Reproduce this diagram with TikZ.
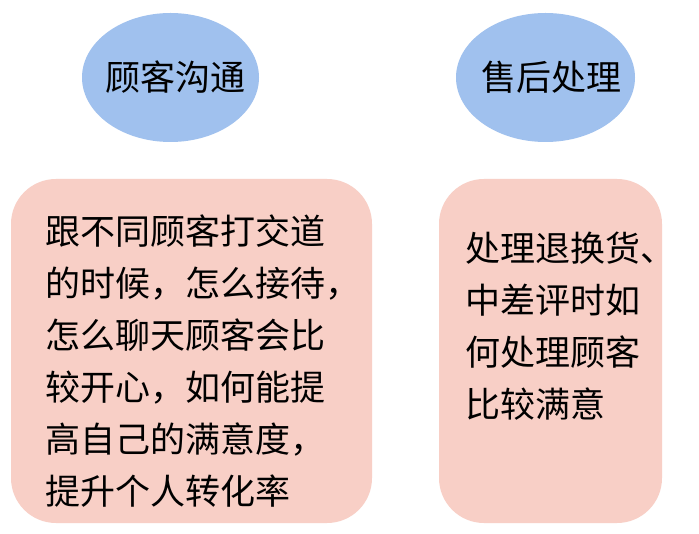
\documentclass[tikz,border=0pt]{standalone}
\usepackage{fontspec}
\setmainfont{Noto Sans CJK SC}
\usetikzlibrary{shapes.geometric}
\definecolor{ellblue}{RGB}{160,193,238}
\definecolor{boxpink}{RGB}{248,207,198}
\tikzset{
  topic/.style={ellipse, fill=ellblue, draw=none, inner sep=0pt, font=\fontsize{35}{42}\selectfont},
  card/.style={rectangle, rounded corners=45pt, fill=boxpink, draw=none},
  cardtext/.style={anchor=north west, inner sep=0pt, align=left, font=\fontsize{35}{52}\selectfont}
}
\begin{document}
\begin{tikzpicture}[x=1pt,y=-1pt]
\useasboundingbox (0,0) rectangle (699,534);
\fill[white] (0,0) rectangle (699,534);
\node[topic, minimum width=177pt, minimum height=129pt] (e1) at (170.5,77.5) {};
\node[font=\fontsize{35}{42}\selectfont, inner sep=0pt] (t1) at (175.5,77.5) {顾客沟通};
\node[topic, minimum width=179pt, minimum height=129pt] (e2) at (545.5,77.5) {};
\node[font=\fontsize{35}{42}\selectfont, inner sep=0pt] (t2) at (551,77.5) {售后处理};
\node[card, minimum width=361pt, minimum height=344pt] (b1) at (191.5,351) {};
\node[card, minimum width=223pt, minimum height=344pt] (b2) at (550.5,351) {};
\node[cardtext] (bt1) at (45,215) {跟不同顾客打交道\\的时候，怎么接待，\\怎么聊天顾客会比\\较开心，如何能提\\高自己的满意度，\\提升个人转化率};
\node[cardtext] (bt2) at (465,232) {处理退换货、\\中差评时如\\何处理顾客\\比较满意};
\end{tikzpicture}
\end{document}
